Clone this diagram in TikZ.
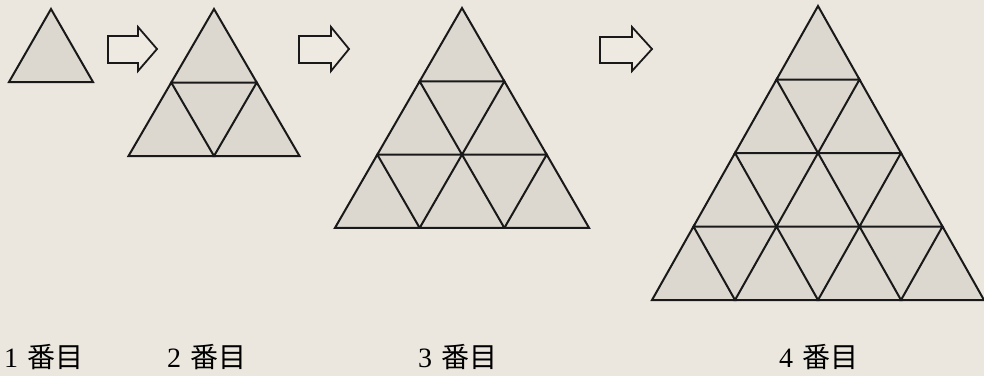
\documentclass[tikz,border=0pt]{standalone}
\usepackage{fontspec}
\setmainfont{Liberation Serif}
\newfontfamily\jpfont{Noto Sans CJK JP}
\definecolor{bgc}{HTML}{ECE7DE}
\definecolor{trifill}{HTML}{DCD8D0}
\definecolor{arrfill}{HTML}{EEEAE2}
\tikzset{
  edge/.style={line width=2pt, line join=miter, draw=black!90},
  arrowshape/.style={line width=1.8pt, draw=black!90, fill=arrfill},
  lbl/.style={anchor=west, inner sep=0pt, font=\fontsize{28}{28}\selectfont}
}
\newcommand{\trigrid}[5]{% apex x, apex y, w, h, n
  \fill[trifill] (#1,#2) -- ({#1-#5*#3/2},{#2+#5*#4}) -- ({#1+#5*#3/2},{#2+#5*#4}) -- cycle;
  \pgfmathtruncatemacro{\nmo}{#5-1}
  \foreach \r in {0,...,\nmo}{
    \foreach \i in {0,...,\r}{
      \draw[edge] ({#1+(\i-\r/2)*#3},{#2+\r*#4}) -- ({#1+(\i-\r/2-0.5)*#3},{#2+(\r+1)*#4}) -- ({#1+(\i-\r/2+0.5)*#3},{#2+(\r+1)*#4}) -- cycle;
    }
  }
}
\newcommand{\lab}[1]{#1\hspace{9pt}{\jpfont 番目}}
\begin{document}
\begin{tikzpicture}[x=1pt,y=-1pt]
\fill[bgc] (0,0) rectangle (984,376);
\useasboundingbox (0,0) rectangle (984,376);
% triangles
\trigrid{51}{9}{84}{73}{1}
\trigrid{214}{9}{85.5}{73.5}{2}
\trigrid{462}{8}{84.7}{73.3}{3}
\trigrid{818}{6}{83}{73.5}{4}
% arrows
\draw[arrowshape] (108,36) -- (138,36) -- (138,27) -- (157,49) -- (138,71) -- (138,63) -- (108,63) -- cycle;
\draw[arrowshape] (299,36) -- (331,36) -- (331,27) -- (349,49) -- (331,71) -- (331,63) -- (299,63) -- cycle;
\draw[arrowshape] (600,37) -- (632,37) -- (632,27) -- (652,49) -- (632,71) -- (632,63) -- (600,63) -- cycle;
% labels
\node[lbl] (l1) at (4,357) {\lab{1}};
\node[lbl] (l2) at (167,357) {\lab{2}};
\node[lbl] (l3) at (418,357) {\lab{3}};
\node[lbl] (l4) at (779,357) {\lab{4}};
\end{tikzpicture}
\end{document}
